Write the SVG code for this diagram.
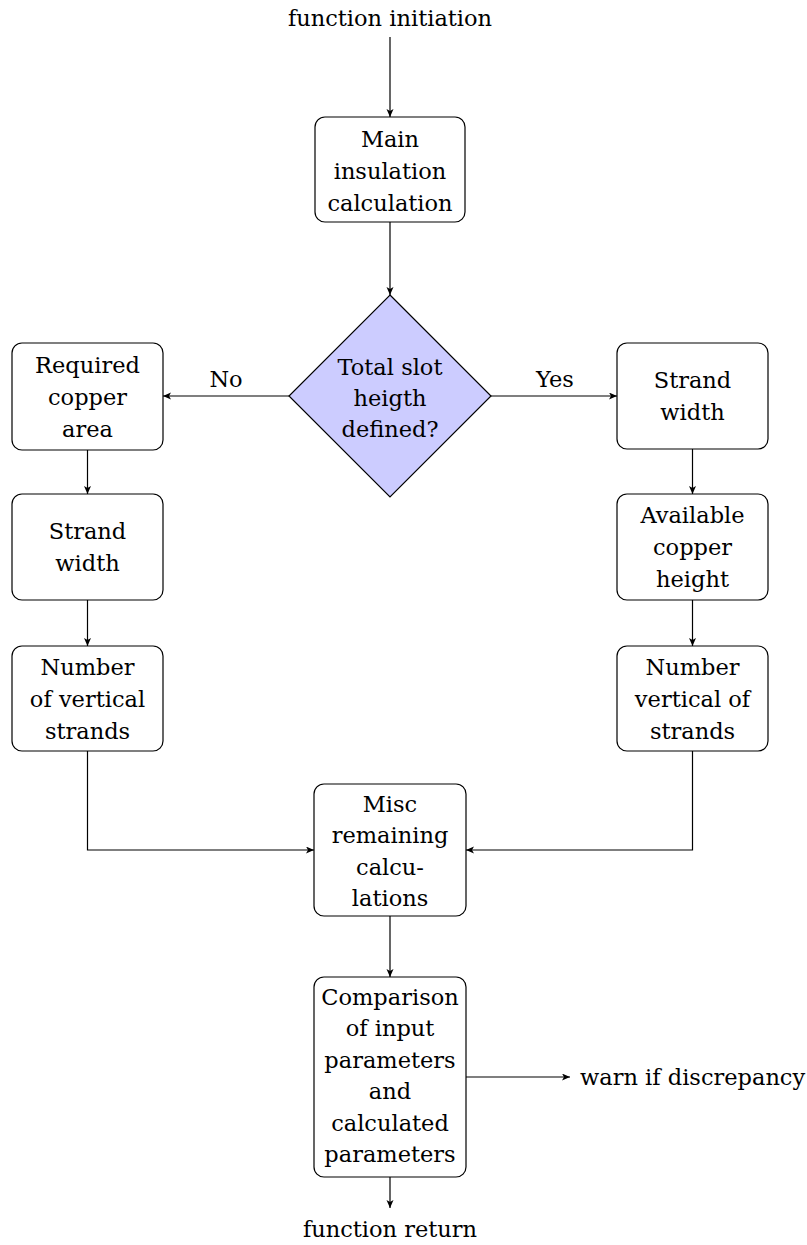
<svg xmlns="http://www.w3.org/2000/svg" width="807" height="1245" viewBox="0 0 807 1245">
  <defs>
    <marker id="arrow" markerUnits="userSpaceOnUse" markerWidth="10" markerHeight="8" refX="8" refY="3.5" orient="auto">
      <path d="M0,0 L8,3.5 L0,7 L2,3.5 Z" fill="#000"/>
    </marker>
    <style>
      .c { text-anchor: middle; }
      .box { fill: #fff; stroke: #000; stroke-width: 1.2; }
      .dec { fill: #ccccff; stroke: #000; stroke-width: 1.2; }
      .conn { fill: none; stroke: #000; stroke-width: 1.2; marker-end: url(#arrow); }
    </style>
  </defs>
  <rect width="807" height="1245" fill="#fff"/>

  <g font-family="'DejaVu Serif', 'Liberation Serif', serif" font-size="22.5" fill="#000">
  <!-- connectors -->
  <g id="connectors">
    <line class="conn" x1="390" y1="37" x2="390" y2="117"/>
    <line class="conn" x1="390" y1="222" x2="390" y2="295"/>
    <line class="conn" x1="289" y1="396" x2="163" y2="396"/>
    <line class="conn" x1="491" y1="396" x2="617" y2="396"/>
    <line class="conn" x1="87.5" y1="450" x2="87.5" y2="494"/>
    <line class="conn" x1="87.5" y1="600" x2="87.5" y2="646"/>
    <line class="conn" x1="692.5" y1="449" x2="692.5" y2="494"/>
    <line class="conn" x1="692.5" y1="600" x2="692.5" y2="646"/>
    <path class="conn" d="M87.5,751 V850 H314"/>
    <path class="conn" d="M692.5,751 V850 H466"/>
    <line class="conn" x1="390" y1="916" x2="390" y2="977"/>
    <line class="conn" x1="466" y1="1077" x2="570" y2="1077"/>
    <line class="conn" x1="390" y1="1177" x2="390" y2="1208"/>
    <text class="c" x="226" y="387">No</text>
    <text class="c" x="555" y="387">Yes</text>
  </g>

  <g id="start">
    <text class="c" x="390" y="26">function initiation</text>
  </g>

  <g id="main-insulation">
    <rect class="box" x="315" y="117" width="150" height="105" rx="10"/>
    <text class="c" x="390" y="147">Main</text>
    <text class="c" x="390" y="179">insulation</text>
    <text class="c" x="390" y="211">calculation</text>
  </g>

  <g id="slot-height-decision">
    <polygon class="dec" points="390,295 491,396 390,497 289,396"/>
    <text class="c" x="390" y="375">Total slot</text>
    <text class="c" x="390" y="406">heigth</text>
    <text class="c" x="390" y="437">defined?</text>
  </g>

  <g id="required-copper-area">
    <rect class="box" x="12" y="343" width="151" height="107" rx="10"/>
    <text class="c" x="87.5" y="373">Required</text>
    <text class="c" x="87.5" y="405">copper</text>
    <text class="c" x="87.5" y="437">area</text>
  </g>

  <g id="strand-width-left">
    <rect class="box" x="12" y="494" width="151" height="106" rx="10"/>
    <text class="c" x="87.5" y="539">Strand</text>
    <text class="c" x="87.5" y="571">width</text>
  </g>

  <g id="vertical-strands-left">
    <rect class="box" x="12" y="646" width="151" height="105" rx="10"/>
    <text class="c" x="87.5" y="675">Number</text>
    <text class="c" x="87.5" y="707">of vertical</text>
    <text class="c" x="87.5" y="739">strands</text>
  </g>

  <g id="strand-width-right">
    <rect class="box" x="617" y="343" width="151" height="106" rx="10"/>
    <text class="c" x="692.5" y="388">Strand</text>
    <text class="c" x="692.5" y="420">width</text>
  </g>

  <g id="available-copper-height">
    <rect class="box" x="617" y="494" width="151" height="106" rx="10"/>
    <text class="c" x="692.5" y="523">Available</text>
    <text class="c" x="692.5" y="555">copper</text>
    <text class="c" x="692.5" y="587">height</text>
  </g>

  <g id="vertical-strands-right">
    <rect class="box" x="617" y="646" width="151" height="105" rx="10"/>
    <text class="c" x="692.5" y="675">Number</text>
    <text class="c" x="692.5" y="707">vertical of</text>
    <text class="c" x="692.5" y="739">strands</text>
  </g>

  <g id="misc-calculations">
    <rect class="box" x="314" y="784" width="152" height="132" rx="10"/>
    <text class="c" x="390" y="812">Misc</text>
    <text class="c" x="390" y="843">remaining</text>
    <text class="c" x="390" y="875">calcu-</text>
    <text class="c" x="390" y="906">lations</text>
  </g>

  <g id="comparison">
    <rect class="box" x="314" y="977" width="152" height="200" rx="10"/>
    <text class="c" x="390" y="1005">Comparison</text>
    <text class="c" x="390" y="1036">of input</text>
    <text class="c" x="390" y="1068">parameters</text>
    <text class="c" x="390" y="1099">and</text>
    <text class="c" x="390" y="1131">calculated</text>
    <text class="c" x="390" y="1162">parameters</text>
  </g>

  <g id="warning">
    <text x="580" y="1085">warn if discrepancy</text>
  </g>

  <g id="end">
    <text class="c" x="390" y="1237">function return</text>
  </g>
  </g>
</svg>
